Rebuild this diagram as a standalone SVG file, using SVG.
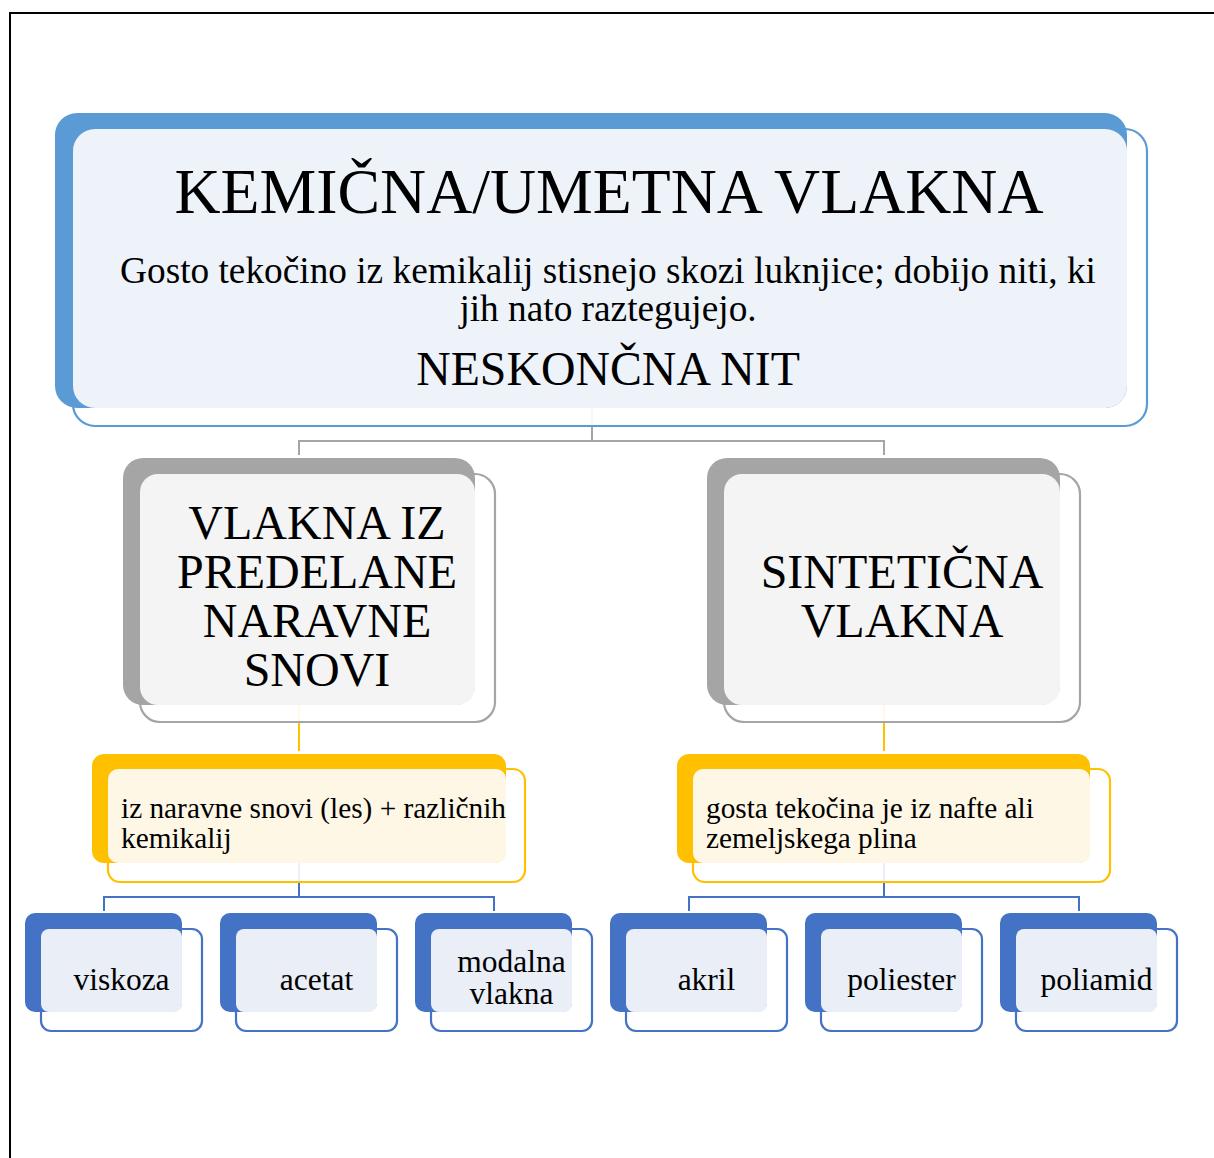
<svg xmlns="http://www.w3.org/2000/svg" width="1214" height="1158" viewBox="0 0 1214 1158">
<style>
text{font-family:"Liberation Serif","Times New Roman",serif;fill:#000}
.c{text-anchor:middle}
.ob{fill:#fff;fill-opacity:0.9;stroke:#5B9BD5;stroke-width:2.2}
.bb{fill:#5B9BD5}
.lb{fill:#EEF3FA}
.og{fill:#fff;fill-opacity:0.9;stroke:#A5A5A5;stroke-width:2.2}
.bg{fill:#A5A5A5}
.lg{fill:#F4F4F4}
.oy{fill:#fff;fill-opacity:0.9;stroke:#FFC000;stroke-width:2.2}
.by{fill:#FFC000}
.ly{fill:#FFF7E6}
.od{fill:#fff;fill-opacity:0.9;stroke:#4472C4;stroke-width:2.2}
.bd{fill:#4472C4}
.ld{fill:#E9EEF7}
.small{font-size:31.5px}
.gold{font-size:29.3px}
.gray{font-size:48px}
</style>
<path d="M10 1158 V13 H1214" fill="none" stroke="#000" stroke-width="2"/>
<g id="connectors" fill="none" stroke-width="2">
<path d="M592 408 V441 M299 455 V441 H884 V455" stroke="#A5A5A5"/>
<path d="M299 705 V751 M884 705 V751" stroke="#FFC000"/>
<path d="M299 863 V897 M104 911 V897 H494 V911 M884 863 V897 M689 911 V897 H1079 V911" stroke="#4472C4"/>
</g>
<g id="node-top">
<rect class="ob" x="73" y="129" width="1074" height="297" rx="22"/>
<rect class="bb" x="55" y="113" width="1072" height="295" rx="22"/>
<rect class="lb" x="73" y="129" width="1054" height="279" rx="22"/>
<text class="c" x="609" y="213" font-size="63.8">KEMIČNA/UMETNA VLAKNA</text>
<text class="c" x="608" y="283" font-size="37.3">Gosto tekočino iz kemikalij stisnejo skozi luknjice; dobijo niti, ki</text>
<text class="c" x="608" y="321" font-size="37.3">jih nato raztegujejo.</text>
<text class="c" x="608" y="385" font-size="47.8">NESKONČNA NIT</text>
</g>
<g id="node-predelane">
<rect class="og" x="140" y="474" width="355" height="248" rx="20"/>
<rect class="bg" x="123" y="458" width="352" height="247" rx="20"/>
<rect class="lg" x="140" y="474" width="335" height="231" rx="18"/>
<text class="c gray" x="317" y="539">VLAKNA IZ</text>
<text class="c gray" x="317" y="588">PREDELANE</text>
<text class="c gray" x="317" y="637">NARAVNE</text>
<text class="c gray" x="317" y="686">SNOVI</text>
</g>
<g id="node-sinteticna">
<rect class="og" x="724" y="474" width="356" height="248" rx="20"/>
<rect class="bg" x="707" y="458" width="353" height="247" rx="20"/>
<rect class="lg" x="724" y="474" width="336" height="231" rx="18"/>
<text class="c gray" x="902" y="588">SINTETIČNA</text>
<text class="c gray" x="902" y="637">VLAKNA</text>
</g>
<g id="node-naravne-opis">
<rect class="oy" x="108" y="769" width="417" height="113" rx="12"/>
<rect class="by" x="92" y="754" width="414" height="109" rx="12"/>
<rect class="ly" x="108" y="769" width="398" height="94" rx="10"/>
<text class="gold" x="121" y="818">iz naravne snovi (les) + različnih</text>
<text class="gold" x="121" y="848">kemikalij</text>
</g>
<g id="node-sinteticna-opis">
<rect class="oy" x="693" y="769" width="417" height="113" rx="12"/>
<rect class="by" x="677" y="754" width="413" height="109" rx="12"/>
<rect class="ly" x="693" y="769" width="397" height="94" rx="10"/>
<text class="gold" x="706" y="818">gosta tekočina je iz nafte ali</text>
<text class="gold" x="706" y="848">zemeljskega plina</text>
</g>
<g id="node-viskoza">
<rect class="od" x="41" y="929" width="161" height="102" rx="10"/>
<rect class="bd" x="25" y="913" width="157" height="99" rx="10"/>
<rect class="ld" x="41" y="929" width="141" height="83" rx="8"/>
<text class="c small" x="121.5" y="990">viskoza</text>
</g>
<g id="node-acetat">
<rect class="od" x="236" y="929" width="161" height="102" rx="10"/>
<rect class="bd" x="220" y="913" width="157" height="99" rx="10"/>
<rect class="ld" x="236" y="929" width="141" height="83" rx="8"/>
<text class="c small" x="316.5" y="990">acetat</text>
</g>
<g id="node-modalna">
<rect class="od" x="431" y="929" width="161" height="102" rx="10"/>
<rect class="bd" x="415" y="913" width="157" height="99" rx="10"/>
<rect class="ld" x="431" y="929" width="141" height="83" rx="8"/>
<text class="c small" x="511.5" y="972">modalna</text>
<text class="c small" x="511.5" y="1004">vlakna</text>
</g>
<g id="node-akril">
<rect class="od" x="626" y="929" width="161" height="102" rx="10"/>
<rect class="bd" x="610" y="913" width="157" height="99" rx="10"/>
<rect class="ld" x="626" y="929" width="141" height="83" rx="8"/>
<text class="c small" x="706.5" y="990">akril</text>
</g>
<g id="node-poliester">
<rect class="od" x="821" y="929" width="161" height="102" rx="10"/>
<rect class="bd" x="805" y="913" width="157" height="99" rx="10"/>
<rect class="ld" x="821" y="929" width="141" height="83" rx="8"/>
<text class="c small" x="901.5" y="990">poliester</text>
</g>
<g id="node-poliamid">
<rect class="od" x="1016" y="929" width="161" height="102" rx="10"/>
<rect class="bd" x="1000" y="913" width="157" height="99" rx="10"/>
<rect class="ld" x="1016" y="929" width="141" height="83" rx="8"/>
<text class="c small" x="1096.5" y="990">poliamid</text>
</g>
</svg>
